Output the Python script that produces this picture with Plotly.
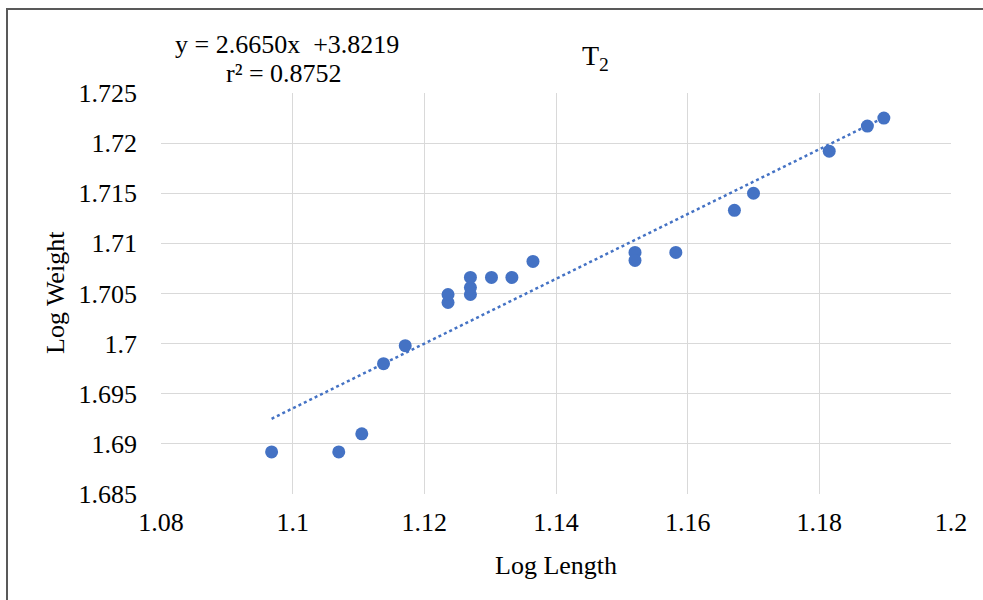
import numpy as np
import plotly.graph_objects as go

# Data
log_length = [1.0968, 1.1070, 1.1105, 1.1138, 1.1171, 1.1236, 1.1236, 1.1270, 1.1270,
              1.1270, 1.1302, 1.1333, 1.1365, 1.1520, 1.1520, 1.1582, 1.1671, 1.1700,
              1.1815, 1.1873, 1.1898]
log_weight = [1.6892, 1.6892, 1.6910, 1.6980, 1.6998, 1.7041, 1.7049, 1.7049, 1.7056,
              1.7066, 1.7066, 1.7066, 1.7082, 1.7091, 1.7083, 1.7091, 1.7133, 1.7150,
              1.7192, 1.7217, 1.7225]
x_ticks = [1.08, 1.1, 1.12, 1.14, 1.16, 1.18, 1.2]
x_tick_labels = ["1.08", "1.1", "1.12", "1.14", "1.16", "1.18", "1.2"]
y_ticks = [1.685, 1.69, 1.695, 1.7, 1.705, 1.71, 1.715, 1.72, 1.725]
y_tick_labels = ["1.685", "1.69", "1.695", "1.7", "1.705", "1.71", "1.715", "1.72", "1.725"]
equation_text = "y = 2.6650x  +3.8219"
r2_text = "r² = 0.8752"

BLUE = "#4472C4"
FONT = "Liberation Serif"
W, H = 983, 600
L, R, T, B = 161, 951, 93, 494

def px(x):
    return (x - L) / (R - L)

def py(y):
    return (B - y) / (B - T)

# linear trendline fitted on the data
slope, intercept = np.polyfit(log_length, log_weight, 1)
tx = np.array([min(log_length), max(log_length)])
ty = slope * tx + intercept

fig = go.Figure()
fig.add_trace(go.Scatter(x=tx, y=ty, mode="lines",
                         line=dict(color=BLUE, width=2.5, dash="dot"),
                         hoverinfo="skip", showlegend=False))
fig.add_trace(go.Scatter(x=log_length, y=log_weight, mode="markers",
                         marker=dict(color=BLUE, size=13), showlegend=False))

annotations = [
    dict(text=equation_text, x=px(287), y=py(45)),
    dict(text=r2_text, x=px(284), y=py(74)),
    dict(text="T<sub>2</sub>", x=px(595), y=py(57), font=dict(family=FONT, size=28, color="#000000")),
    dict(text="Log Length", x=px(556), y=py(565)),
    dict(text="Log Weight", x=px(55), y=py(293), textangle=-90),
]
for a in annotations:
    a.setdefault("font", dict(family=FONT, size=26, color="#000000"))
    fig.add_annotation(xref="paper", yref="paper", showarrow=False,
                       xanchor="center", yanchor="middle", **a)

# outer chart border
fig.add_shape(type="rect", xref="paper", yref="paper",
              x0=px(7), x1=px(990), y0=py(9), y1=py(610),
              line=dict(color="#595959", width=2), fillcolor="rgba(0,0,0,0)", layer="below")

fig.update_layout(
    width=W, height=H, margin=dict(l=L, r=W - R, t=T, b=H - B),
    plot_bgcolor="white", paper_bgcolor="white", showlegend=False,
    xaxis=dict(range=[x_ticks[0], x_ticks[-1]], tickmode="array",
               tickvals=x_ticks, ticktext=x_tick_labels,
               tickfont=dict(family=FONT, size=26, color="#000000"), ticklabelstandoff=10,
               showgrid=True, gridcolor="#D9D9D9", gridwidth=1, zeroline=False, showline=False),
    yaxis=dict(range=[y_ticks[0], y_ticks[-1]], tickmode="array",
               tickvals=y_ticks, ticktext=y_tick_labels,
               tickfont=dict(family=FONT, size=26, color="#000000"), ticklabelstandoff=23,
               showgrid=True, gridcolor="#D9D9D9", gridwidth=1, zeroline=False, showline=False),
)

fig.write_html("out.html")
